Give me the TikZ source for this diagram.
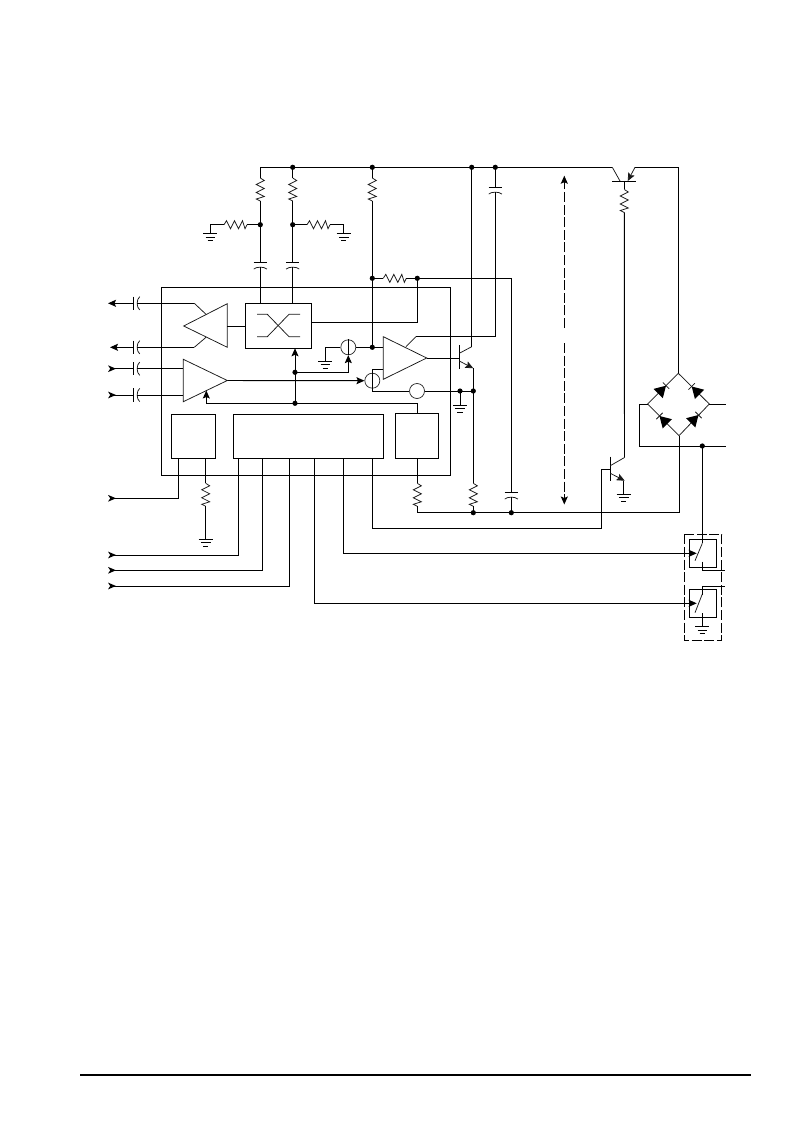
\documentclass[tikz,border=0pt]{standalone}
\usetikzlibrary{arrows.meta,calc}
\tikzset{
  x=1pt,y=-1pt,
  wire/.style={line width=0.95pt,line join=miter},
  thinw/.style={line width=0.75pt,line join=miter,black!90},
  block/.style={draw,line width=0.95pt,rectangle,inner sep=0,outer sep=0,anchor=north west},
  arr/.style={-{Stealth[length=8pt,width=7pt,inset=1.5pt]}},
  dot/.style={circle,fill=black,inner sep=0,minimum size=5.2pt},
  ring/.style={circle,draw,line width=0.7pt,inner sep=0,minimum size=15pt,black!85},
  dash box/.style={line width=0.95pt,dash pattern=on 10pt off 2.6pt},
  pics/resv/.style={code={
    \coordinate (-a) at (0,0); \coordinate (-b) at (0,23);
    \draw[thinw] (0,0)--(4,2.5)--(-4,6.5)--(4,10.5)--(-4,14.5)--(4,18.5)--(-4,21)--(0,23);}},
  pics/resh/.style={code={
    \coordinate (-a) at (0,0); \coordinate (-b) at (23,0);
    \draw[thinw] (0,0)--(2.5,-4)--(6.5,4)--(10.5,-4)--(14.5,4)--(18.5,-4)--(21,4)--(23,0);}},
  pics/capv/.style={code={
    \coordinate (-a) at (0,0); \coordinate (-b) at (0,4.4);
    \draw[wire] (-6.6,0)--(6.6,0);
    \draw[thinw] (-6.6,6.8) .. controls (-4,4.2) and (4,4.2) .. (6.6,6.8);}},
  pics/caph/.style={code={
    \coordinate (-a) at (0,0); \coordinate (-b) at (3.6,0);
    \draw[wire] (0,-6.6)--(0,6.6);
    \draw[thinw] (6.4,-6.6) .. controls (3,-4) and (3,4) .. (6.4,6.6);}},
  pics/gnd/.style={code={
    \coordinate (-a) at (0,0);
    \draw[wire] (-7,0)--(7,0) (-4.8,3.3)--(4.8,3.3) (-2.7,7)--(2.7,7);}},
  pics/inarrow/.style={code={
    \coordinate (-a) at (-6,0);
    \fill (0,0)--(-8,-3.4)--(-5.8,0)--(-8,3.4)--cycle;}},
  pics/diode/.style={code={
    \fill (0,0)--(-12.5,-3.2)--(-3.2,-12.5)--cycle;
    \draw[thinw] (-3.2,3.2)--(3.2,-3.2);}},
}
\begin{document}
\begin{tikzpicture}
\useasboundingbox[fill=white] (0,0) rectangle (793,1123);

% ---- blocks
\node[block,minimum width=288.6pt,minimum height=188pt] (ic) at (161.7,287.3) {};
\node[block,minimum width=66.4pt,minimum height=45pt] (xbar) at (245.3,303.3) {};
\node[block,minimum width=44.4pt,minimum height=44.4pt] (lblock) at (171.3,414.3) {};
\node[block,minimum width=150pt,minimum height=44.4pt] (cblock) at (233.3,414.3) {};
\node[block,minimum width=43.4pt,minimum height=45.4pt] (rblock) at (395.3,413.3) {};
\node[block,minimum width=27.4pt,minimum height=28pt] (sw1) at (689.3,539.3) {};
\node[block,minimum width=27.4pt,minimum height=28pt] (sw2) at (689.3,589.3) {};
\node[ring] (c1) at (348.3,347.3) {};
\node[ring] (c2) at (372.3,380.7) {};
\node[ring] (c3) at (417,391) {};

% ---- junctions
\coordinate (railL) at (260.3,167.3);
\coordinate (railR) at (612.3,167.3);
\coordinate (j1) at (292.7,167.3);
\coordinate (j2) at (372.3,167.3);
\coordinate (j3) at (471.7,167.3);
\coordinate (j4) at (495.3,167.3);
\coordinate (j5) at (260.3,224.7);
\coordinate (j6) at (292.7,224.7);
\coordinate (j7) at (372.3,278.3);
\coordinate (j8) at (417.3,278.3);
\coordinate (j9) at (372.3,347.3);
\coordinate (j10) at (295,372.3);
\coordinate (j11) at (295,403.3);
\coordinate (j12) at (460,391);
\coordinate (j13) at (473.3,391);
\coordinate (j14) at (473.3,512.7);
\coordinate (j15) at (511.3,512.7);
\coordinate (j16) at (702.3,446);

% ---- triangles
\coordinate (a1t) at (227.3,303.7);
\coordinate (a1b) at (227.3,347.3);
\coordinate (a1x) at (183.7,326);
\coordinate (a1i) at (227.3,326);
\coordinate (a2t) at (183.3,359.3);
\coordinate (a2b) at (183.3,401.7);
\coordinate (a2x) at (227.3,380.5);
\coordinate (a3t) at (383.3,336.7);
\coordinate (a3b) at (383.3,379.3);
\coordinate (a3x) at (426.7,358);
\draw[thinw] (a1t)--(a1x)--(a1b)--cycle;
\draw[thinw] (a2t)--(a2x)--(a2b)--cycle;
\draw[thinw] (a3t)--(a3x)--(a3b)--cycle;

% ---- bridge
\coordinate (bt) at (678.3,373.3);
\coordinate (bl) at (647.7,404);
\coordinate (br) at (709.3,404);
\coordinate (bb) at (679,435.7);
\draw[thinw] (bt)--(bl)--(bb)--(br)--cycle;
\pic[yscale=-1] at (666,385.7) {diode};
\pic[xscale=-1,yscale=-1] at (691.7,386.5) {diode};
\pic[xscale=-1,yscale=-1] at (659.5,416) {diode};
\pic[yscale=-1] at (698.5,415) {diode};

% ---- components
\pic (r1) at (260.3,178) {resv};
\pic (r2) at (292.7,178) {resv};
\pic (r3) at (372.3,178) {resv};
\pic (r4) at (224,224.7) {resh};
\pic (r5) at (307,224.7) {resh};
\pic (r6) at (383.3,278.3) {resh};
\pic (r7) at (205.7,483.3) {resv};
\pic (r8) at (417.3,483.3) {resv};
\pic (r9) at (473.3,483.3) {resv};
\pic (r10) at (624.3,189.5) {resv};
\pic (c1a) at (260.3,262.3) {capv};
\pic (c2a) at (292.7,262.3) {capv};
\pic (c3a) at (495.3,187.3) {capv};
\pic (c4a) at (511.3,492.3) {capv};
\pic (hc1) at (133.3,303.3) {caph};
\pic (hc2) at (133.3,347.3) {caph};
\pic (hc3) at (133.3,368.7) {caph};
\pic (hc4) at (133.3,395) {caph};
\pic (g1) at (210.3,233.7) {gnd};
\pic (g2) at (343.7,233.7) {gnd};
\pic (g3) at (325.3,361.5) {gnd};
\pic (g4) at (460,405.3) {gnd};
\pic (g5) at (205.7,539.3) {gnd};
\pic (g6) at (623.7,494) {gnd};
\pic (g7) at (702.3,626.7) {gnd};
\pic (ia1) at (116,368.7) {inarrow};
\pic (ia2) at (116,395) {inarrow};
\pic (ia3) at (116,498.3) {inarrow};
\pic (ia4) at (116,555) {inarrow};
\pic (ia5) at (116,570.3) {inarrow};
\pic (ia6) at (116,586) {inarrow};

% ---- wires
\draw[wire] (railL)--(railR);
\draw[wire] (railL)--(r1-a) (r1-b)--(c1a-a) (c1a-b)--(260.3,303.3);
\draw[wire] (j1)--(r2-a) (r2-b)--(c2a-a) (c2a-b)--(292.7,303.3);
\draw[wire] (j5)--(r4-b) (r4-a)-|(g1-a);
\draw[wire] (j6)--(r5-a) (r5-b)-|(g2-a);
\draw[wire] (j2)--(r3-a) (r3-b)--(j9);
\draw[wire] (j7)--(r6-a) (r6-b)--(j8);
\coordinate (j8r) at (511.3,278.3);
\draw[wire] (j8)--(j8r)--(c4a-a);
\draw[wire] (c4a-b)--(j15);
\draw[wire] (j8)|-(311.7,322.3);
\draw[wire] (j9)--(383.3,347.3);
\draw[wire] (c1.east)--(j9);
\draw[wire] (c1.west)-|(g3-a);
\draw[wire] (a1i)--(245.3,326);

% left amp outputs
\coordinate (o1) at (194.3,303.3);
\coordinate (o2) at (194.3,347.3);
\draw[wire] (o1)--(hc1-b);
\draw[wire,arr] (hc1-a)--(108,303.3);
\draw[wire] (o2)--(hc2-b);
\draw[wire,arr] (hc2-a)--(110,347.3);
\draw[thinw] (o1)--(206,314.3) (o2)--(206,337.3);
% inputs
\draw[wire] (ia1-a)--(hc3-a) (hc3-b)--(a2t|-hc3-b);
\draw[wire] (ia2-a)--(hc4-a) (hc4-b)--(a2t|-hc4-b);
% amp outputs
\draw[wire,arr] (a2x)--(c2.west);
\draw[wire,arr] (j11)--(295,348.3);
\draw[wire,arr] (j10)-|(c1.south);
\draw[wire] (c1.south)--(c1.north);
\draw[wire,arr] (206.3,403.3)--(206.3,390.5);
\draw[wire] (206.3,403.3)--(417.3,403.3)--(rblock.north-|417.3,403.3);
% cross switch
\draw[thinw] (257,314.3)--(267.3,314.3)--(289,336.7)--(300,336.7);
\draw[thinw] (257,336.7)--(267.3,336.7)--(289,314.3)--(300,314.3);
% around main amp
\draw[wire] (383.3,369.3)-|(c2.north);
\draw[wire] (c2.north)--(c2.south);
\draw[wire] (c2.south)--(372.3,391)--(c3.west);
\draw[wire] (c3.east)--(j13);
\draw[wire] (j12)--(g4-a);
\draw[thinw] (406,346.7)--(416,336.7);
\draw[wire] (416,336.7)-|(c3a-b);
\draw[wire] (j4)--(c3a-a);
% driver transistor
\coordinate (q1b) at (459.3,358);
\draw[wire] (a3x)--(q1b);
\draw[wire] (459.3,345.3)--(459.3,368.7);
\draw[thinw] (459.3,353.3)--(471.7,346.7);
\draw[wire] (471.7,346.7)--(j3);
\draw[thinw,arr] (459.3,361)--(473.3,368.3);
\draw[wire] (473.3,368.3)--(j13)--(r9-a);
\draw[wire] (r9-b)--(j14);
% lower rail
\draw[wire] (rblock.south-|r8-a)--(r8-a);
\coordinate (lr) at (679,512.7);
\draw[wire] (r8-b)--(417.3,512.7)--(lr)--(bb);
% dashed arrow
\draw[wire,arr,dash pattern=on 10pt off 2.6pt] (564.3,328)--(564.3,175.7);
\draw[wire,arr,dash pattern=on 10pt off 2.6pt] (564.3,343)--(564.3,504.5);
% pass transistor
\draw[thinw] (railR)--(620,181);
\draw[wire] (612.3,181)--(635.7,181);
\draw[thinw,arr] (635,167.3)--(627.7,181);
\draw[wire] (635,167.3)--(678.3,167.3)--(bt);
\draw[wire] (624.3,181)--(r10-a);
\coordinate (q2c) at (624.5,457.5);
\draw[wire] (r10-b)--(q2c);
\draw[wire] (610.3,456.7)--(610.3,480.7);
\draw[thinw] (610.3,465.7)--(q2c);
\draw[thinw,arr] (610.3,473.3)--(624.7,480.7);
\draw[wire] (623.7,480.5)--(g6-a);
% bridge ac
\draw[wire] (br)--(725.7,404);
\draw[wire] (bl)--(639.3,404)--(639.3,446)--(725.7,446);
\draw[wire] (j16)--(702.3,543.3);
% block pins
\draw[wire] (372.3,458.7)--(372.3,528.3)-|(601.7,469.3)--(610.3,469.3);
\draw[wire] (178.3,458.7)|-(ia3-a);
\draw[wire] (205.7,458.7)--(r7-a) (r7-b)--(g5-a);
\draw[wire] (238.3,458.7)|-(ia4-a);
\draw[wire] (262.3,458.7)|-(ia5-a);
\draw[wire] (289.3,458.7)|-(ia6-a);
\draw[wire,arr] (343.7,458.7)|-(696.7,553.3);
\draw[wire,arr] (314.3,458.7)|-(696.7,603.3);
% switches
\draw[thinw] (702.3,543.3)--(695,560.7);
\draw[wire] (702.3,561.7)|-(725,570.3);
\draw[thinw] (702.3,594)--(695,612.7);
\draw[wire] (702.3,594.5)|-(725,586.3);
\draw[wire] (702.3,613.3)--(g7-a);
\draw[dash box] (684.3,534.3) rectangle (721.7,640.3);
% dots
\foreach \p in {j1,j2,j3,j4,j5,j6,j7,j8,j9,j10,j11,j12,j13,j14,j15,j16}
  \node[dot] at (\p) {};
% page rule
\draw[line width=2pt] (80,1074.7)--(751,1074.7);
\end{tikzpicture}
\end{document}
